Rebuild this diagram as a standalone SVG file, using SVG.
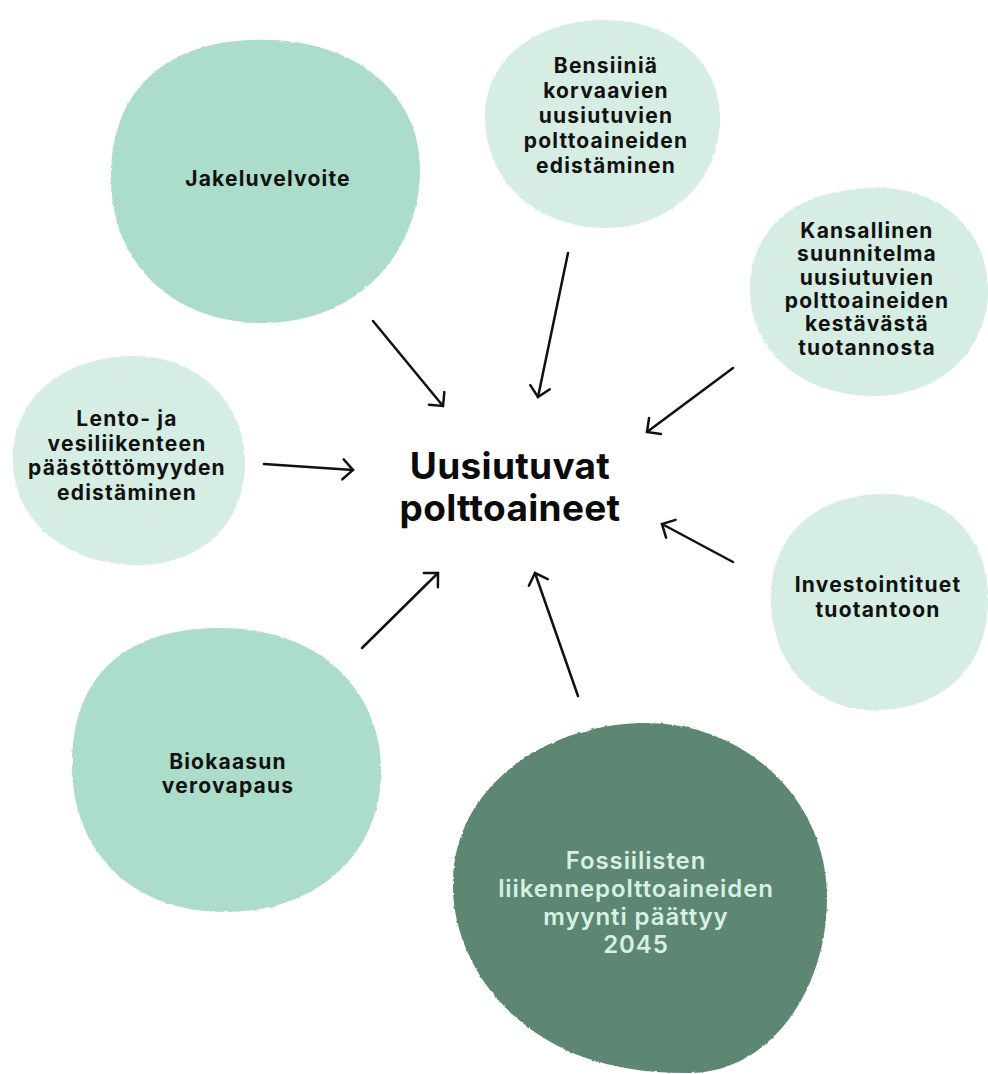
<svg xmlns="http://www.w3.org/2000/svg" width="988" height="1074" viewBox="0 0 988 1074">
  <defs>
    <style>
      .mid { fill: #acdcca; }
      .light { fill: #d6ede3; }
      .dark { fill: #5d8673; }
      .blob { filter: url(#rough); }
      .lbl { font-family: Inter, "Liberation Sans", sans-serif; font-weight: 700; font-size: 21px; fill: #111111; text-anchor: middle; letter-spacing: 1.2px; }
      .lbl-dark { font-family: Inter, "Liberation Sans", sans-serif; font-weight: 600; font-size: 24px; fill: #d8f0e4; text-anchor: middle; letter-spacing: 0.9px; }
      .center { font-family: Inter, "Liberation Sans", sans-serif; font-weight: 700; font-size: 37px; fill: #0b0b0b; text-anchor: middle; letter-spacing: 0.3px; }
      .conn { stroke: #111111; stroke-width: 2.5; fill: none; stroke-linecap: round; }
    </style>
    <filter id="rough" x="-5%" y="-5%" width="110%" height="110%">
      <feTurbulence type="fractalNoise" baseFrequency="0.2" numOctaves="2" seed="3" result="n"/>
      <feDisplacementMap in="SourceGraphic" in2="n" scale="2.5" xChannelSelector="R" yChannelSelector="G"/>
    </filter>
    <marker id="arrow" markerUnits="userSpaceOnUse" viewBox="-13 -12 15 24" refX="0" refY="0" markerWidth="15" markerHeight="24" orient="auto">
      <path d="M -10 -10 L 0 0 L -10 10" fill="none" stroke="#111111" stroke-width="2.5" stroke-linecap="round" stroke-linejoin="miter"/>
    </marker>
  </defs>
  <rect width="988" height="1074" fill="#ffffff"/>

  <g id="node-jakeluvelvoite">
    <path class="mid blob" d="M 250 40 C 350 35, 418 90, 420 165 C 422 250, 360 322, 265 323 C 175 324, 112 265, 111 180 C 110 95, 160 44, 250 40 Z"/>
    <text class="lbl" x="268" y="186">Jakeluvelvoite</text>
  </g>

  <g id="node-bensiinia">
    <path class="light blob" d="M 600 20 C 675 18, 722 65, 720 120 C 718 185, 668 228, 605 228 C 540 228, 487 185, 485 120 C 483 60, 535 22, 600 20 Z"/>
    <text class="lbl" x="606" y="73">Bensiiniä</text>
    <text class="lbl" x="606" y="98">korvaavien</text>
    <text class="lbl" x="606" y="123">uusiutuvien</text>
    <text class="lbl" x="606" y="148">polttoaineiden</text>
    <text class="lbl" x="606" y="173">edistäminen</text>
  </g>

  <g id="node-kansallinen">
    <path class="light blob" d="M 870 188 C 940 185, 988 230, 988 290 C 988 350, 940 396, 875 396 C 800 396, 750 350, 750 290 C 750 225, 800 190, 870 188 Z"/>
    <text class="lbl" x="867" y="238">Kansallinen</text>
    <text class="lbl" x="867" y="261">suunnitelma</text>
    <text class="lbl" x="867" y="285">uusiutuvien</text>
    <text class="lbl" x="867" y="308">polttoaineiden</text>
    <text class="lbl" x="867" y="331">kestävästä</text>
    <text class="lbl" x="867" y="355">tuotannosta</text>
  </g>

  <g id="node-lento">
    <path class="light blob" d="M 130 356 C 200 354, 245 405, 245 462 C 245 525, 200 566, 135 565 C 65 564, 12 520, 13 458 C 14 395, 65 358, 130 356 Z"/>
    <text class="lbl" x="127" y="426">Lento- ja</text>
    <text class="lbl" x="127" y="451">vesiliikenteen</text>
    <text class="lbl" x="127" y="475">päästöttömyyden</text>
    <text class="lbl" x="127" y="500">edistäminen</text>
  </g>

  <g id="node-investointituet">
    <path class="light blob" d="M 880 494 C 950 492, 988 540, 988 600 C 988 665, 945 710, 875 710 C 810 710, 770 660, 771 595 C 772 535, 815 496, 880 494 Z"/>
    <text class="lbl" x="878" y="592">Investointituet</text>
    <text class="lbl" x="878" y="617">tuotantoon</text>
  </g>

  <g id="node-biokaasun">
    <path class="mid blob" d="M 215 628 C 320 626, 378 690, 381 765 C 384 850, 320 912, 225 912 C 130 912, 72 850, 72 765 C 72 680, 120 630, 215 628 Z"/>
    <text class="lbl" x="228" y="769">Biokaasun</text>
    <text class="lbl" x="228" y="793">verovapaus</text>
  </g>

  <g id="node-fossiilisten">
    <path class="dark blob" d="M 640 723 C 745 720, 826 800, 827 895 C 828 990, 770 1072, 690 1073 C 590 1074, 530 1040, 490 990 C 460 950, 452 910, 453 880 C 455 790, 540 726, 640 723 Z"/>
    <text class="lbl-dark" x="636" y="869">Fossiilisten</text>
    <text class="lbl-dark" x="636" y="897">liikennepolttoaineiden</text>
    <text class="lbl-dark" x="636" y="925">myynti päättyy</text>
    <text class="lbl-dark" x="636" y="953">2045</text>
  </g>

  <g id="node-center">
    <text class="center" x="510" y="479">Uusiutuvat</text>
    <text class="center" x="510" y="521">polttoaineet</text>
  </g>

  <g id="connectors">
    <line class="conn" x1="373" y1="321" x2="443" y2="406" marker-end="url(#arrow)"/>
    <line class="conn" x1="568" y1="253" x2="538" y2="397" marker-end="url(#arrow)"/>
    <line class="conn" x1="733" y1="368" x2="647" y2="432" marker-end="url(#arrow)"/>
    <line class="conn" x1="264" y1="464" x2="353" y2="470" marker-end="url(#arrow)"/>
    <line class="conn" x1="733" y1="562" x2="662" y2="524" marker-end="url(#arrow)"/>
    <line class="conn" x1="578" y1="696" x2="535" y2="573" marker-end="url(#arrow)"/>
    <line class="conn" x1="362" y1="648" x2="438" y2="573" marker-end="url(#arrow)"/>
  </g>
</svg>
